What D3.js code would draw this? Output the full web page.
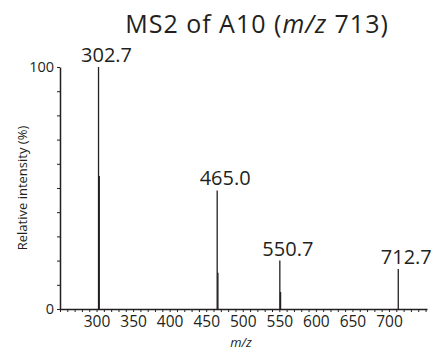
<!DOCTYPE html>
<html>
<head>
<meta charset="utf-8">
<script src="https://cdn.jsdelivr.net/npm/d3@7"></script>
<style>
  html, body { margin: 0; padding: 0; background: #fff; }
  svg { display: block; font-family: "Open Sans", "Liberation Sans", sans-serif; }
</style>
</head>
<body>
<svg id="chart" width="439" height="352"></svg>
<script>
// MS2 spectrum peaks (m/z, relative intensity %)
const peakMz        = [302.7, 303.7, 465.0, 466.0, 550.7, 551.7, 712.7];
const peakIntensity = [100,   55,    49,    15,    20,    7,     16.5];
// Peaks that carry an m/z annotation
const labeledMz     = [302.7, 465.0, 550.7, 712.7];
// Axis tick labels
const xTickLabels   = [300, 350, 400, 450, 500, 550, 600, 650, 700];
const yTickLabels   = [0, 100];

const svg = d3.select("#chart");
const ink = "#231f20";

const x = d3.scaleLinear().domain([250, 752]).range([60, 427]);
const y = d3.scaleLinear().domain([0, 100]).range([309, 67]);

// Title
const title = svg.append("text")
  .attr("x", 257).attr("y", 33)
  .attr("text-anchor", "middle")
  .attr("font-size", 25)
  .attr("letter-spacing", 1)
  .attr("fill", ink);
title.append("tspan").text("MS2 of A10 (");
title.append("tspan").attr("font-style", "italic").text("m/z");
title.append("tspan").text(" 713)");

// x axis: minor ticks every 10, labels every 50
const xAxis = d3.axisBottom(x)
  .tickValues(d3.range(250, 751, 10))
  .tickSize(3)
  .tickSizeOuter(0)
  .tickPadding(4)
  .tickFormat(d => xTickLabels.includes(d) ? d : "");
const gx = svg.append("g").attr("transform", `translate(0,${y(0)})`).call(xAxis);
gx.select(".domain").attr("stroke", ink).attr("stroke-width", 1.5);
gx.selectAll(".tick line").attr("stroke", ink).attr("stroke-width", 1);
gx.selectAll(".tick text").attr("font-size", 15.5).attr("fill", ink)
  .attr("font-family", "'Open Sans', sans-serif");

// y axis: ticks every 10 %, labels at 0 and 100
const yAxis = d3.axisLeft(y)
  .tickValues(d3.range(0, 101, 10))
  .tickSize(3)
  .tickSizeOuter(0)
  .tickPadding(3)
  .tickFormat(d => yTickLabels.includes(d) ? d : "");
const gy = svg.append("g").attr("transform", `translate(${x(250)},0)`).call(yAxis);
gy.select(".domain").attr("stroke", ink).attr("stroke-width", 1.5);
gy.selectAll(".tick line").attr("stroke", ink).attr("stroke-width", 1);
gy.selectAll(".tick text").attr("font-size", 14.5).attr("fill", ink)
  .attr("font-family", "'Open Sans', sans-serif");

// Axis titles
svg.append("text")
  .attr("transform", `translate(27,${(y(0) + y(100)) / 2}) rotate(-90)`)
  .attr("text-anchor", "middle")
  .attr("font-size", 13)
  .attr("fill", ink)
  .text("Relative intensity (%)");

svg.append("text")
  .attr("x", 241).attr("y", 347)
  .attr("text-anchor", "middle")
  .attr("font-size", 13)
  .attr("font-style", "italic")
  .attr("fill", ink)
  .text("m/z");

// Peak sticks
const peaks = peakMz.map((m, i) => ({ mz: m, intensity: peakIntensity[i] }));
svg.append("g").selectAll("line")
  .data(peaks)
  .join("line")
  .attr("x1", d => x(d.mz)).attr("x2", d => x(d.mz))
  .attr("y1", y(0)).attr("y2", d => y(d.intensity))
  .attr("stroke", ink)
  .attr("stroke-width", 1.3);

// Peak annotations
svg.append("g").selectAll("text")
  .data(peaks.filter(d => labeledMz.includes(d.mz)))
  .join("text")
  .attr("x", d => x(d.mz) + 8)
  .attr("y", d => y(d.intensity) - 5)
  .attr("text-anchor", "middle")
  .attr("font-size", 20)
  .attr("fill", ink)
  .text(d => d.mz.toFixed(1));
</script>
</body>
</html>
